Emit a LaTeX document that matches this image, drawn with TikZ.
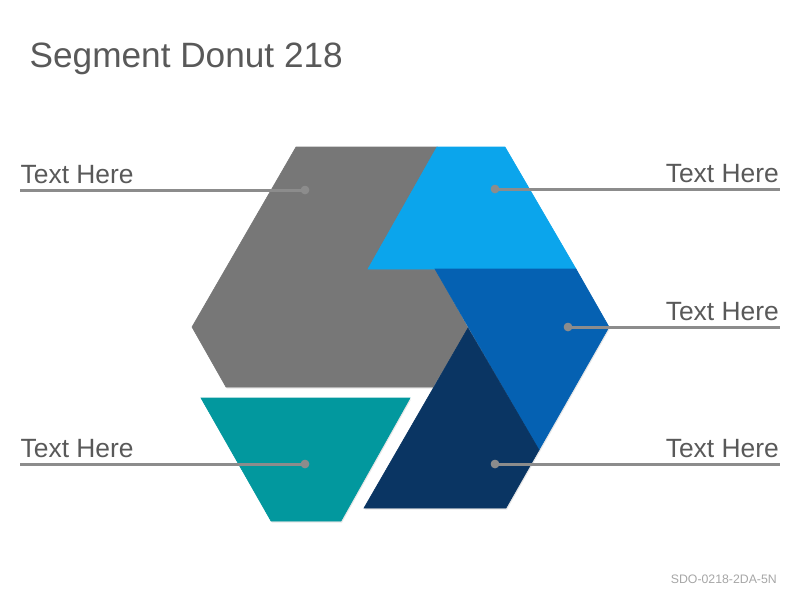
\documentclass[tikz,border=0pt]{standalone}
\usepackage{fontspec}
\setmainfont{Liberation Sans}
\usetikzlibrary{shadows}
\definecolor{cgray}{HTML}{777777}
\definecolor{clblue}{HTML}{0BA5EC}
\definecolor{cmblue}{HTML}{0561B2}
\definecolor{cnavy}{HTML}{0A3563}
\definecolor{cteal}{HTML}{02989E}
\definecolor{ctext}{HTML}{595959}
\definecolor{cline}{HTML}{8C8C8C}
\definecolor{cfoot}{HTML}{A6A6A6}
\tikzset{
  seg/.style={line width=0.6pt, line join=miter, drop shadow={shadow xshift=1pt, shadow yshift=-1.5pt, opacity=0.2}},
  lbl/.style={font=\fontsize{26.4}{29}\selectfont, text=ctext, inner sep=0pt},
  leader/.style={draw=cline, line width=3pt},
  dot/.style={circle, fill=cline, minimum size=8.5pt, inner sep=0pt},
}
\begin{document}
\begin{tikzpicture}[x=1pt,y=-1pt]
\useasboundingbox (0,0) rectangle (800,600);
% segments
\filldraw[fill=cgray, draw=cgray, seg] (296,147) -- (437,147) -- (368,269) -- (435,269) -- (468,328) -- (433,387) -- (226,387) -- (192,327) -- cycle;
\filldraw[fill=clblue, draw=clblue, seg] (437,147) -- (505,147) -- (576,269) -- (368,269) -- cycle;
\filldraw[fill=cmblue, draw=cmblue, seg] (435,269) -- (576,269) -- (609,327) -- (539,450) -- cycle;
\filldraw[fill=cnavy, draw=cnavy, seg] (468,328) -- (539,450) -- (506,508) -- (364,508) -- cycle;
\filldraw[fill=cteal, draw=cteal, seg] (201,398) -- (410,398) -- (341,521) -- (271,521) -- cycle;
% title and footer
\node[anchor=base west, inner sep=0pt, text=ctext, font=\fontsize{35.2}{38}\selectfont] (title) at (29.5,67.5) {Segment Donut 218};
\node[anchor=base east, inner sep=0pt, text=cfoot, font=\fontsize{12.3}{14}\selectfont] (foot) at (777,583) {SDO-0218-2DA-5N};
% leader end points
\coordinate (e1) at (20,190);
\coordinate (e2) at (780,189);
\coordinate (e3) at (780,327);
\coordinate (e4) at (20,464);
\coordinate (e5) at (780,464);
\node[dot] (d1) at (305,190) {};
\node[dot] (d2) at (495,189) {};
\node[dot] (d3) at (568,327) {};
\node[dot] (d4) at (305,464) {};
\node[dot] (d5) at (495,464) {};
\draw[leader] (e1) -- (d1.center);
\draw[leader] (d2.center) -- (e2);
\draw[leader] (d3.center) -- (e3);
\draw[leader] (e4) -- (d4.center);
\draw[leader] (d5.center) -- (e5);
\node[dot] at (d1) {};
\node[dot] at (d2) {};
\node[dot] at (d3) {};
\node[dot] at (d4) {};
\node[dot] at (d5) {};
% labels
\node[lbl, anchor=base west] (t1) at (20.5,183) {Text Here};
\node[lbl, anchor=base east] (t2) at (779,182) {Text Here};
\node[lbl, anchor=base east] (t3) at (779,320) {Text Here};
\node[lbl, anchor=base west] (t4) at (20.5,457) {Text Here};
\node[lbl, anchor=base east] (t5) at (779,457) {Text Here};
\end{tikzpicture}
\end{document}
